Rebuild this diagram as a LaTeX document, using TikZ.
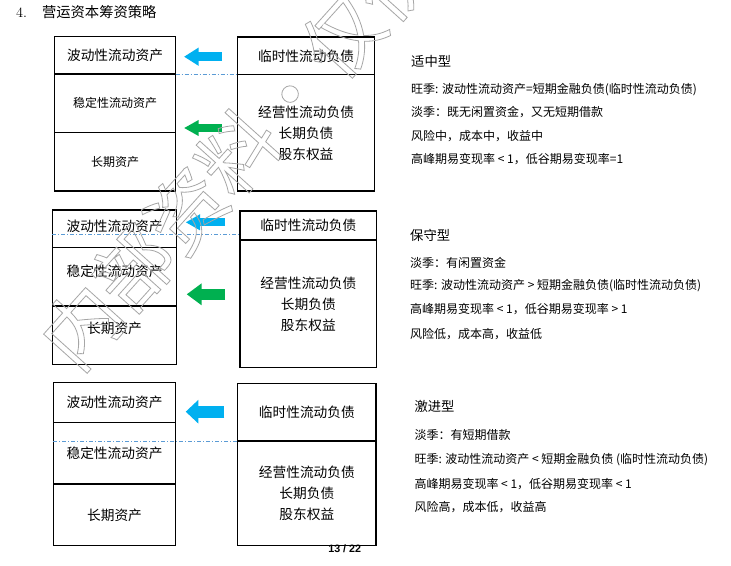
\documentclass[tikz,border=0pt]{standalone}
\usepackage{fontspec}
\newfontfamily\cjk{Noto Sans CJK SC}
\newfontfamily\pagefont{Liberation Sans}
\usetikzlibrary{positioning,arrows.meta}
\definecolor{arrowblue}{RGB}{0,176,240}
\definecolor{arrowgreen}{RGB}{0,176,80}
\definecolor{levelblue}{RGB}{91,155,213}
\newcommand{\hollow}[1]{\special{pdf:literal direct 1 Tr 0.8 w}#1\special{pdf:literal direct 0 Tr}}

\begin{document}
\begin{tikzpicture}[x=1pt,y=-1pt,
    cell/.style ={draw, line width=1.1pt, inner sep=0pt, outer sep=0pt, align=center,
                  font=\cjk\fontsize{13.7}{21}\selectfont},
    small/.style ={font=\cjk\fontsize{12}{14}\selectfont},
    lift/.style ={text height=10pt, text depth=#1},
    level/.style ={levelblue, line width=0.6pt, dash pattern=on 4pt off 2pt on 1pt off 2pt},
    bluearrow/.style ={arrowblue},
    greenarrow/.style ={arrowgreen},
    kind/.style ={anchor=west, inner sep=0pt, font=\cjk\fontsize{13.3}{15}\selectfont},
    note/.style ={anchor=west, inner sep=0pt, font=\cjk\fontsize{12}{14}\selectfont}]
   \fill[white] (0,0) rectangle (731,565);
   \useasboundingbox (0,0) rectangle (731,565);

   \node[anchor=west, inner sep=0pt, font=\fontsize{14.3}{16}\selectfont] (title) at (16,11.7)
        {4.\hspace{15pt}{\cjk 营运资本筹资策略}};

   % matching
   \node[cell, anchor=north west, minimum width=121pt, minimum height=37.3pt] (L1a) at (54.5,36.7) {波动性流动资产};
   \node[cell, small, minimum width=121pt, minimum height=58.7pt, below=0pt of L1a] (L1b) {稳定性流动资产};
   \node[cell, small, minimum width=121pt, minimum height=58.3pt, below=0pt of L1b] (L1c) {长期资产};
   \node[cell, anchor=north west, minimum width=136.6pt, minimum height=37.7pt] (R1a) at (237.7,37) {临时性流动负债};
   \node[cell, minimum width=136.6pt, minimum height=116.3pt, below=0pt of R1a] (R1b) {经营性流动负债\\长期负债\\股东权益};
   \draw[level] (L1a.south east) -- (L1a.south east -| R1a.west);
   \coordinate (s1) at (222,56.7);
   \coordinate (e1) at (184,56.7);
   \coordinate (s2) at (222,128);
   \coordinate (e2) at (184,128);
   \draw[bluearrow, line width=8.7pt, -{Triangle[width=17.3pt,length=14.7pt]}] (s1) -- (e1);
   \draw[greenarrow, line width=8.3pt, -{Triangle[width=15pt,length=14.7pt]}] (s2) -- (e2);

   \node[kind] (K1) at (411,61) {适中型};
   \node[note] (K1a) at (411,90) {旺季: 波动性流动资产=短期金融负债(临时性流动负债)};
   \node[note] (K1b) at (411,111.7) {淡季：既无闲置资金，又无短期借款};
   \node[note] (K1c) at (411,136) {风险中，成本中，收益中};
   \node[note] (K1d) at (411,159.3) {高峰期易变现率 < 1，低谷期易变现率=1};

   % conservative
   \node[cell, lift=5pt, anchor=north west, minimum width=124.4pt, minimum height=37.3pt] (L2a) at (52.3,210) {波动性流动资产};
   \node[cell, lift=11pt, minimum width=124.4pt, minimum height=58.7pt, below=0pt of L2a] (L2b) {稳定性流动资产};
   \node[cell, lift=13pt, minimum width=124.4pt, minimum height=58.3pt, below=0pt of L2b] (L2c) {长期资产};
   \node[cell, anchor=north west, minimum width=136.7pt, minimum height=29pt] (R2a) at (240,211) {临时性流动负债};
   \node[cell, minimum width=136.7pt, minimum height=127.7pt, below=0pt of R2a] (R2b) {经营性流动负债\\长期负债\\股东权益};
   \coordinate (d2) at (52.3,234.3);
   \draw[level] (d2) -- (d2 -| R2a.west);
   \coordinate (s3) at (225,222.3);
   \coordinate (e3) at (185.7,222.3);
   \coordinate (s4) at (225,294.3);
   \coordinate (e4) at (186.7,294.3);
   \draw[bluearrow, line width=8.3pt, -{Triangle[width=15pt,length=14.3pt]}] (s3) -- (e3);
   \draw[greenarrow, line width=10.7pt, -{Triangle[width=21pt,length=15pt]}] (s4) -- (e4);

   \node[kind] (K2) at (410,235) {保守型};
   \node[note] (K2a) at (410,262.7) {淡季：有闲置资金};
   \node[note] (K2b) at (410,286) {旺季: 波动性流动资产 > 短期金融负债(临时性流动负债)};
   \node[note] (K2c) at (410,309.3) {高峰期易变现率 < 1，低谷期易变现率 > 1};
   \node[note] (K2d) at (410,334) {风险低，成本高，收益低};

   % aggressive
   \node[cell, anchor=north west, minimum width=122.4pt, minimum height=39.6pt] (L3a) at (53.3,382.7) {波动性流动资产};
   \node[cell, minimum width=122.4pt, minimum height=61.7pt, below=0pt of L3a] (L3b) {稳定性流动资产};
   \node[cell, minimum width=122.4pt, minimum height=61.7pt, below=0pt of L3b] (L3c) {长期资产};
   \node[cell, anchor=north west, minimum width=138.3pt, minimum height=57.7pt] (R3a) at (237.7,383.3) {临时性流动负债};
   \node[cell, minimum width=138.3pt, minimum height=104.7pt, below=0pt of R3a] (R3b) {经营性流动负债\\长期负债\\股东权益};
   \draw[level] (R3a.south west -| L3a.west) -- (R3a.south west);
   \coordinate (s5) at (224.3,411.7);
   \coordinate (e5) at (185.7,411.7);
   \draw[bluearrow, line width=11.7pt, -{Triangle[width=23pt,length=12.7pt]}] (s5) -- (e5);

   \node[kind] (K3) at (414.3,406) {激进型};
   \node[note] (K3a) at (414.3,435) {淡季：有短期借款};
   \node[note] (K3b) at (414.3,460) {旺季: 波动性流动资产 < 短期金融负债 (临时性流动负债)};
   \node[note] (K3c) at (414.3,484.3) {高峰期易变现率 < 1，低谷期易变现率 < 1};
   \node[note] (K3d) at (414.3,506.7) {风险高，成本低，收益高};

   \node[font=\pagefont\bfseries\fontsize{10.7}{12}\selectfont] (page) at (344.7,549) {13 / 22};

   \node[rotate=48, anchor=west, inner sep=0pt, text=black!35, font=\cjk\fontsize{78}{84}\selectfont] (mark) at (55,355)
        {\hollow{内部资料·仅供参考}};
 \end{tikzpicture}
\end{document}
